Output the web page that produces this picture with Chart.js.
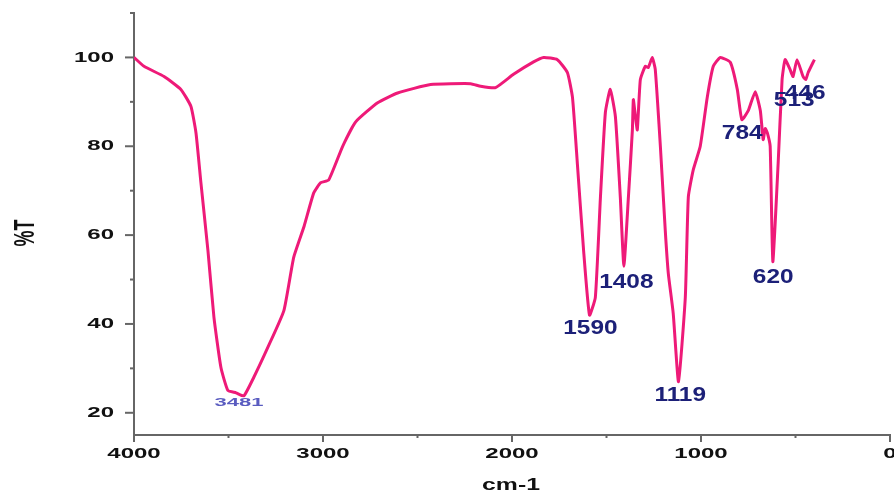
<!DOCTYPE html>
<html>
<head>
<meta charset="utf-8">
<script src="https://cdn.jsdelivr.net/npm/chart.js@4"></script>
<style>
  html, body { margin: 0; padding: 0; background: #fff; }
  #wrap { width: 894px; height: 494px; }
</style>
</head>
<body>
<div id="wrap"><canvas id="ftir"></canvas></div>
<script>
// wavenumber (cm-1) and transmittance (%T)
const wavenumber = [4000, 3947, 3841, 3752, 3699, 3672, 3646, 3609, 3577, 3540, 3503, 3460, 3419, 3366, 3292, 3207, 3155, 3100, 3049, 3012, 2970, 2896, 2827, 2711, 2605, 2431, 2219, 2166, 2087, 1992, 1886, 1833, 1760, 1707, 1680, 1654, 1622, 1590, 1559, 1532, 1506, 1480, 1453, 1427, 1408, 1384, 1363, 1358, 1347, 1337, 1321, 1295, 1279, 1258, 1242, 1215, 1189, 1173, 1147, 1119, 1083, 1067, 1041, 1004, 967, 935, 898, 845, 808, 784, 750, 713, 686, 671, 660, 649, 634, 620, 592, 571, 555, 529, 513, 492, 460, 446, 433, 400];
const transmittance = [100, 98, 95.7, 92.8, 89, 83, 71.8, 56.6, 41.5, 30.2, 25, 24.5, 23.8, 28, 34.7, 43, 55, 62, 69.5, 71.8, 72.4, 80, 85.5, 89.8, 92, 93.9, 94.1, 93.5, 93.2, 96.2, 99, 100, 99.5, 96.6, 91, 76, 57, 42, 46, 68.6, 87.6, 92.8, 86.7, 68.6, 53, 68.6, 83.7, 90.5, 86.7, 83.7, 95, 98, 97.7, 100, 97.3, 80, 61, 51.4, 42.4, 27, 46, 68.6, 74.7, 80, 91, 98, 100, 98.9, 92.8, 86, 88, 92.3, 88, 81.5, 84, 83, 80, 54, 76, 95, 99.5, 97.3, 95.7, 99.5, 95.7, 95, 96.6, 99.5];

// peak annotations (text and where it sits, in data units)
const peakLabels = ['3481', '1590', '1408', '1119', '620', '784', '513', '446'];
const peakLabelX = [3445, 1585, 1395, 1110, 618, 782, 507, 449];
const peakLabelY = [22.3, 39.0, 49.4, 23.8, 50.5, 82.8, 90.3, 91.9];

const xTickLabels = [4000, 3000, 2000, 1000, 0];
const yTickLabels = [20, 40, 60, 80, 100];

const points = wavenumber.map((w, i) => ({ x: w, y: transmittance[i] }));

// text in the original is stretched sideways, so draw it with a horizontal scale
function wideText(ctx, txt, x, y, sx, align) {
  ctx.save();
  ctx.translate(x, y);
  ctx.scale(sx, 1);
  ctx.textAlign = align;
  ctx.textBaseline = 'middle';
  ctx.fillText(txt, 0, 0);
  ctx.restore();
}

const axisDecor = {
  id: 'axisDecor',
  afterDraw(chart) {
    const ctx = chart.ctx;
    const xs = chart.scales.x, ys = chart.scales.y;
    const left = chart.chartArea.left, bottom = chart.chartArea.bottom;

    ctx.save();
    ctx.strokeStyle = '#666';
    ctx.lineWidth = 2;
    // x ticks, major + minor
    for (const v of xTickLabels) {
      const px = xs.getPixelForValue(v);
      ctx.beginPath(); ctx.moveTo(px, bottom); ctx.lineTo(px, bottom + 7); ctx.stroke();
      if (v > 0) {
        const mx = xs.getPixelForValue(v - 500);
        ctx.beginPath(); ctx.moveTo(mx, bottom); ctx.lineTo(mx, bottom + 3); ctx.stroke();
      }
    }
    // y ticks
    for (const v of yTickLabels) {
      const py = ys.getPixelForValue(v);
      ctx.beginPath(); ctx.moveTo(left, py); ctx.lineTo(left - 9, py); ctx.stroke();
      const my = ys.getPixelForValue(v + 10);
      ctx.beginPath(); ctx.moveTo(left, my); ctx.lineTo(left - 4, my); ctx.stroke();
    }

    ctx.fillStyle = '#111';
    ctx.font = 'bold 15px "Liberation Sans", Arial, sans-serif';
    for (const v of xTickLabels) {
      wideText(ctx, String(v), xs.getPixelForValue(v), bottom + 19, 1.6, 'center');
    }
    for (const v of yTickLabels) {
      wideText(ctx, String(v), left - 20, ys.getPixelForValue(v), 1.6, 'right');
    }

    // axis titles
    ctx.font = 'bold 16px "Liberation Sans", Arial, sans-serif';
    wideText(ctx, 'cm-1', 511, bottom + 51, 1.55, 'center');
    ctx.save();
    ctx.translate(26, 233);
    ctx.rotate(-Math.PI / 2);
    ctx.scale(1, 1.6);
    ctx.font = 'bold 18px "Liberation Sans", Arial, sans-serif';
    ctx.textAlign = 'center';
    ctx.textBaseline = 'middle';
    ctx.fillText('%T', 0, 0);
    ctx.restore();

    // peak labels
    peakLabels.forEach((lbl, i) => {
      const px = xs.getPixelForValue(peakLabelX[i]);
      const py = ys.getPixelForValue(peakLabelY[i]);
      if (lbl === '3481') {
        ctx.fillStyle = '#5a5cc0';
        ctx.font = 'bold 11px "Liberation Sans", Arial, sans-serif';
        wideText(ctx, lbl, px, py, 2.0, 'center');
      } else {
        ctx.fillStyle = '#1c2078';
        ctx.font = 'bold 20px "Liberation Sans", Arial, sans-serif';
        wideText(ctx, lbl, px, py, 1.22, 'center');
      }
    });
    ctx.restore();
  }
};

new Chart(document.getElementById('ftir'), {
  type: 'line',
  data: {
    datasets: [{
      data: points,
      borderColor: '#ee1a78',
      borderWidth: 3,
      pointRadius: 0,
      tension: 0.15,
      fill: false
    }]
  },
  options: {
    responsive: true,
    maintainAspectRatio: false,
    animation: false,
    layout: { padding: { left: 126, right: 4, top: 13, bottom: 51 } },
    plugins: { legend: { display: false }, tooltip: { enabled: false } },
    scales: {
      x: {
        type: 'linear',
        min: 0, max: 4000,
        reverse: true,
        grid: { display: false },
        border: { display: true, color: '#666', width: 2 },
        ticks: { display: false }
      },
      y: {
        min: 15, max: 110,
        grid: { display: false },
        border: { display: true, color: '#666', width: 2 },
        ticks: { display: false }
      }
    }
  },
  plugins: [axisDecor]
});
</script>
</body>
</html>
